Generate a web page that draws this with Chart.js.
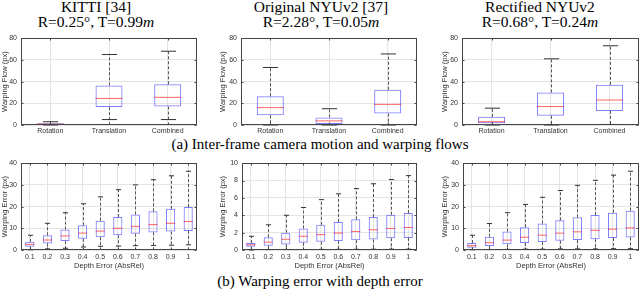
<!DOCTYPE html>
<html>
<head>
<meta charset="utf-8">
<script src="https://cdn.jsdelivr.net/npm/chart.js@4.4.1/dist/chart.umd.min.js"></script>
<style>
  body { margin: 0; width: 640px; height: 292px; position: relative; overflow: hidden; background: #fff; font-family: "Liberation Serif", serif; }
  canvas { position: absolute; }
  .ttl { position: absolute; top: -1.5px; width: 220px; text-align: center; font-size: 15.5px; line-height: 15.5px; white-space: nowrap; color: #000; }
  .cap { position: absolute; left: 0; width: 640px; text-align: center; font-size: 15px; line-height: 17px; white-space: nowrap; color: #000; }
</style>
</head>
<body>
<div class="ttl" style="left:-14px">KITTI [34]<br>R=0.25°, T=0.99<i>m</i></div>
<div class="ttl" style="left:211px">Original NYUv2 [37]<br>R=2.28°, T=0.05<i>m</i></div>
<div class="ttl" style="left:430px">Rectified NYUv2<br>R=0.68°, T=0.24<i>m</i></div>
<div class="cap" style="top:136px">(a) Inter-frame camera motion and warping flows</div>
<div class="cap" style="top:273px">(b) Warping error with depth error</div>

<canvas id="c1" width="198" height="110" style="left:0;top:30px"></canvas>
<canvas id="c2" width="200" height="110" style="left:218px;top:30px"></canvas>
<canvas id="c3" width="200" height="110" style="left:440px;top:30px"></canvas>
<canvas id="c4" width="198" height="120" style="left:0;top:155px"></canvas>
<canvas id="c5" width="200" height="120" style="left:218px;top:155px"></canvas>
<canvas id="c6" width="200" height="120" style="left:440px;top:155px"></canvas>

<script>
// each box: [lower whisker, q1, median, q3, upper whisker]
const flowCats = ['Rotation', 'Translation', 'Combined'];
const kittiFlow = [[0, 0.3, 0.8, 1.5, 3], [5, 16.5, 24.5, 36.5, 65], [5, 17, 25.5, 37.5, 68]];
const nyuFlow = [[0, 9, 16, 26.5, 53], [0, 1, 3.8, 7, 15], [0, 10.5, 19, 32.5, 65.5]];
const rectFlow = [[0, 1.5, 3, 7.5, 15.5], [0, 8.5, 17, 30, 61], [0.5, 13, 23, 37, 73]];

const depthCats = ['0.1', '0.2', '0.3', '0.4', '0.5', '0.6', '0.7', '0.8', '0.9', '1'];
const kittiErr = [
  [0.1, 1.5, 2.6, 3.8, 6.8], [0.5, 3, 4.6, 6.8, 12.3], [0.8, 4.1, 6.5, 9.4, 17.2],
  [1.4, 5.2, 7.8, 11.4, 21.3], [1.7, 5.9, 8.7, 13.5, 24.5], [1.8, 6.8, 10, 15.2, 27.8],
  [2, 7.5, 10.9, 16.4, 30], [2.1, 8.1, 11.7, 17.8, 32.4], [2.2, 8.5, 12.3, 19, 34.2],
  [2.4, 8.8, 13.1, 19.8, 36.3]
];
const nyuErr = [
  [0, 0.38, 0.6, 0.8, 1.58], [0.04, 0.5, 0.9, 1.47, 2.9], [0.05, 0.64, 1.24, 2, 4],
  [0.06, 0.83, 1.58, 2.48, 4.9], [0.07, 0.94, 1.77, 2.9, 5.8], [0.08, 1.05, 1.95, 3.23, 6.47],
  [0.08, 1.13, 2.14, 3.53, 7.07], [0.09, 1.2, 2.33, 3.8, 7.63], [0.1, 1.35, 2.48, 4.06, 8.12],
  [0.1, 1.39, 2.6, 4.25, 8.57]
];
const rectErr = [
  [0.1, 1.06, 2, 3.2, 6.8], [0.2, 1.8, 3.35, 6.1, 12.2], [0.3, 2.6, 4.56, 8.5, 17.2],
  [0.4, 3.2, 5.9, 10.5, 21], [0.4, 3.65, 6.84, 12.2, 24.3], [0.5, 4.26, 7.76, 13.7, 27.4],
  [0.5, 4.56, 8.36, 15.1, 29.8], [0.5, 5, 9.1, 16.1, 32.1], [0.6, 5.5, 9.6, 17.2, 34.5],
  [0.6, 5.8, 10.2, 18.1, 36.3]
];

const tickFont = { family: '"Liberation Sans", Arial, sans-serif', size: 7 };
const titleFont = { family: '"Liberation Sans", Arial, sans-serif', size: 7.5 };

function seg(ctx, x1, y1, x2, y2) {
  ctx.beginPath();
  ctx.moveTo(x1, y1);
  ctx.lineTo(x2, y2);
  ctx.stroke();
}

// whiskers, caps and medians, placed with the chart's own scales
const boxExtras = {
  id: 'boxExtras',
  afterDatasetsDraw(chart, args, opts) {
    const { ctx, scales: { x, y } } = chart;
    const bars = chart.getDatasetMeta(0).data;
    ctx.save();
    ctx.lineWidth = 1;
    opts.stats.forEach(([lo, q1, med, q3, hi], i) => {
      const cx = Math.round(x.getPixelForValue(i)) + 0.5;
      const w = bars[i].width;
      const cap = w * 0.28;
      const yLo = y.getPixelForValue(lo), yQ1 = y.getPixelForValue(q1);
      const yQ3 = y.getPixelForValue(q3), yHi = y.getPixelForValue(hi);
      const yMed = y.getPixelForValue(med);
      ctx.strokeStyle = '#555';
      ctx.setLineDash([3, 2]);
      seg(ctx, cx, yQ3, cx, yHi);
      seg(ctx, cx, yQ1, cx, yLo);
      ctx.setLineDash([]);
      ctx.strokeStyle = '#333';
      seg(ctx, cx - cap, yHi, cx + cap, yHi);
      seg(ctx, cx - cap, yLo, cx + cap, yLo);
      ctx.strokeStyle = 'rgba(255,0,0,0.6)';
      seg(ctx, bars[i].x - w / 2, yMed, bars[i].x + w / 2, yMed);
    });
    ctx.restore();
  }
};

// matlab style box round the axes with inward ticks
const axesFrame = {
  id: 'axesFrame',
  afterDraw(chart) {
    const { ctx, chartArea: a, scales: { x, y } } = chart;
    const l = Math.round(a.left) + 0.5, r = Math.round(a.right) - 0.5;
    const t = Math.round(a.top) + 0.5, b = Math.round(a.bottom) - 0.5;
    ctx.save();
    ctx.strokeStyle = '#444';
    ctx.lineWidth = 1;
    ctx.strokeRect(l, t, r - l, b - t);
    y.ticks.forEach(tk => {
      const py = Math.round(y.getPixelForValue(tk.value)) + 0.5;
      seg(ctx, l, py, l + 2, py);
      seg(ctx, r, py, r - 2, py);
    });
    x.ticks.forEach((tk, i) => {
      const px = Math.round(x.getPixelForValue(i)) + 0.5;
      seg(ctx, px, b, px, b - 2);
      seg(ctx, px, t, px, t + 2);
    });
    ctx.restore();
  }
};

function makePanel(id, cats, stats, yMax, yStep, yTitle, xTitle, yWidth, xHeight, barPct, tickPad) {
  new Chart(document.getElementById(id), {
    type: 'bar',
    data: {
      labels: cats,
      datasets: [{
        data: stats.map(s => [s[1], s[3]]),
        backgroundColor: 'rgba(0,0,0,0)',
        borderColor: 'rgba(40,40,255,0.6)',
        borderWidth: 1,
        borderSkipped: false,
        categoryPercentage: 1,
        barPercentage: barPct
      }]
    },
    options: {
      responsive: false,
      animation: false,
      events: [],
      layout: { padding: { top: 6, right: 1, left: 0, bottom: 0 } },
      plugins: {
        legend: { display: false },
        tooltip: { enabled: false },
        boxExtras: { stats: stats }
      },
      scales: {
        x: {
          grid: { color: '#e4e4e4', offset: false, drawTicks: false },
          border: { display: false },
          ticks: { font: tickFont, color: '#333', padding: tickPad, maxRotation: 0, autoSkip: false },
          title: { display: !!xTitle, text: xTitle, font: titleFont, color: '#333', padding: { top: 0, bottom: 4.5 } },
          afterFit: s => { s.height = xHeight; }
        },
        y: {
          min: 0,
          max: yMax,
          grid: { color: '#e4e4e4', drawTicks: false },
          border: { display: false },
          ticks: { stepSize: yStep, font: tickFont, color: '#333', padding: 4 },
          title: { display: true, text: yTitle, font: titleFont, color: '#333', padding: 0 },
          afterFit: s => { s.width = yWidth; }
        }
      }
    },
    plugins: [boxExtras, axesFrame]
  });
}

makePanel('c1', flowCats, kittiFlow, 80, 20, 'Warping Flow (px)', '', 21, 15, 0.46, 2);
makePanel('c2', flowCats, nyuFlow, 80, 20, 'Warping Flow (px)', '', 23, 15, 0.46, 2);
makePanel('c3', flowCats, rectFlow, 80, 20, 'Warping Flow (px)', '', 22, 15, 0.46, 2);
makePanel('c4', depthCats, kittiErr, 40, 10, 'Warping Error (px)', 'Depth Error (AbsRel)', 21, 25, 0.52, 3);
makePanel('c5', depthCats, nyuErr, 10, 2, 'Warping Error (px)', 'Depth Error (AbsRel)', 24, 25, 0.52, 3);
makePanel('c6', depthCats, rectErr, 40, 10, 'Warping Error (px)', 'Depth Error (AbsRel)', 23, 25, 0.52, 3);
</script>
</body>
</html>
